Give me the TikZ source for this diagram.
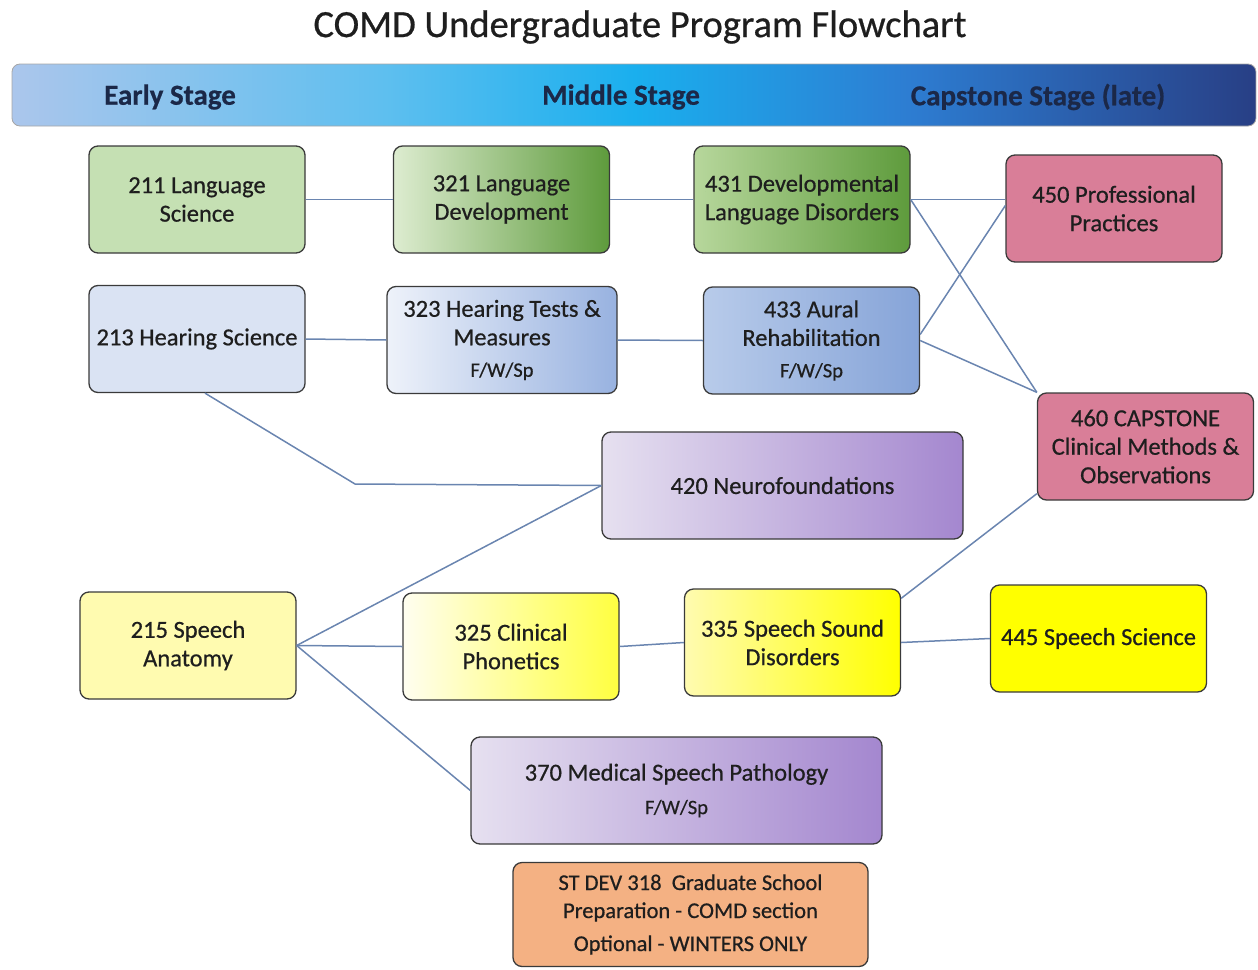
\documentclass[tikz,border=0pt]{standalone}
\usepackage{fontspec}
\setmainfont{Carlito}[FakeBold=0.6]
\usetikzlibrary{calc}

\definecolor{lnk}{HTML}{6A85B0}
\definecolor{edge}{HTML}{3A3A3A}
\definecolor{ink}{HTML}{1E1E1E}
\definecolor{navy}{HTML}{1B2848}
\definecolor{grA}{HTML}{C5E0B3}
\definecolor{grB}{HTML}{DDECD0}
\definecolor{grC}{HTML}{5E9B3C}
\definecolor{grD}{HTML}{B7D79C}
\definecolor{blA}{HTML}{DAE3F3}
\definecolor{blB}{HTML}{EEF2FA}
\definecolor{blC}{HTML}{98B2E0}
\definecolor{blD}{HTML}{B8CBEA}
\definecolor{blE}{HTML}{86A4D8}
\definecolor{pk}{HTML}{D97E98}
\definecolor{puA}{HTML}{E6E0F0}
\definecolor{puB}{HTML}{A487CF}
\definecolor{yeA}{HTML}{FFFBB0}
\definecolor{yeB}{HTML}{FFFEF0}
\definecolor{yeC}{HTML}{FFFF40}
\definecolor{yeD}{HTML}{FFFF00}
\definecolor{org}{HTML}{F4B183}
\definecolor{bnA}{HTML}{ABC6EC}
\definecolor{bnM}{HTML}{5EBFEF}
\definecolor{bnB}{HTML}{1AAFEE}
\definecolor{bnR}{HTML}{2D7DD2}
\definecolor{bnC}{HTML}{283F85}

% the path's extent maps onto 25bp..75bp of the shading
\pgfdeclarehorizontalshading{bannershade}{100bp}{%
  color(0bp)=(bnA); color(25bp)=(bnA); color(40bp)=(bnM); color(50bp)=(bnB);
  color(61bp)=(bnR); color(75bp)=(bnC); color(100bp)=(bnC)}

% smaller type for the term offerings line
\newcommand\termsize{\fontsize{20.5}{23}\selectfont}

\tikzset{
  course/.style={draw=edge, line width=1.3pt, rounded corners=9pt,
    align=center, inner sep=0pt, text=ink,
    font=\fontsize{24.5}{28.5}\selectfont,
    minimum width=216pt, minimum height=107pt},
  stage/.style={text=navy, font=\bfseries\fontsize{29}{34}\selectfont},
  link/.style={draw=lnk, line width=1.5pt},
}

\begin{document}
\begin{tikzpicture}[x=1pt,y=-1pt]
\useasboundingbox (0,0) rectangle (1258,969);

% title and stage banner
\node[text=ink, font=\fontsize{38.5}{44}\selectfont] (title) at (640,27) {COMD Undergraduate Program Flowchart};
\shade[shading=bannershade, draw=gray!70, line width=0.8pt, rounded corners=8pt]
  (12,64) rectangle (1256,126);
\node[stage] (early) at (170,97) {Early Stage};
\node[stage] (middle) at (621,97) {Middle Stage};
\node[stage] (late) at (1038,97) {Capstone Stage (late)};

% language track
\node[course, fill=grA] (c211) at (197,199.5) {211 Language\\Science};
\node[course, left color=grB, middle color=grD, right color=grC] (c321) at (501.5,199.5) {321 Language\\Development};
\node[course, left color=grD, right color=grC] (c431) at (802,199.5) {431 Developmental\\Language Disorders};
\node[course, fill=pk] (c450) at (1114,208.5) {450 Professional\\Practices};

% hearing track
\node[course, fill=blA] (c213) at (197,339) {213 Hearing Science};
\node[course, minimum width=230pt, left color=blB, right color=blC] (c323) at (502,340)
  {323 Hearing Tests \&\\Measures\\[3pt]{\termsize F/W/Sp}};
\node[course, left color=blD, right color=blE] (c433) at (811.5,340.5)
  {433 Aural\\Rehabilitation\\[3pt]{\termsize F/W/Sp}};
\node[course, fill=pk] (c460) at (1145.5,446.5) {460 CAPSTONE\\Clinical Methods \&\\Observations};

% neuro and speech track
\node[course, minimum width=361pt, left color=puA, right color=puB] (c420) at (782.5,485.5) {420 Neurofoundations};
\node[course, fill=yeA] (c215) at (188,645.5) {215 Speech\\Anatomy};
\node[course, left color=yeB, right color=yeC] (c325) at (511,646.5) {325 Clinical\\Phonetics};
\node[course, left color=yeA, right color=yeD] (c335) at (792.5,642.5) {335 Speech Sound\\Disorders};
\node[course, fill=yeD] (c445) at (1098.5,638.5) {445 Speech Science};
\node[course, minimum width=411pt, left color=puA, right color=puB] (c370) at (676.5,790.5)
  {370 Medical Speech Pathology\\[5pt]{\termsize F/W/Sp}};
\node[course, minimum width=355pt, minimum height=104pt, fill=org,
  font=\fontsize{22.5}{28}\selectfont] (c318) at (690.5,914.5)
  {ST DEV 318\ \ Graduate School\\Preparation - COMD section\\[5pt]Optional - WINTERS ONLY};

% connectors
\coordinate (bend) at (355,484);
\draw[link] (c211.east) -- (c321.west);
\draw[link] (c321.east) -- (c431.west);
\draw[link] (c431.east) -- (c431.east -| c450.west);
\draw[link] (c431.east) -- (c460.north west);
\draw[link] ([yshift=6pt]c433.east) -- ([yshift=3pt]c450.west);
\draw[link] (c433.east) -- (c460.north west);
\draw[link] (c213.east) -- (c323.west);
\draw[link] (c323.east) -- (c433.west);
\draw[link] ([xshift=8pt]c213.south) -- (bend) -- (c420.west);
\draw[link] (c215.east) -- (c420.west);
\draw[link] (c215.east) -- (c325.west);
\draw[link] (c215.east) -- (c370.west);
\draw[link] (c325.east) -- (c335.west);
\draw[link] (c335.east) -- (c445.west);
\draw[link] ([yshift=-10pt]c335.north east) -- ([yshift=7pt]c460.south west);
\end{tikzpicture}
\end{document}
